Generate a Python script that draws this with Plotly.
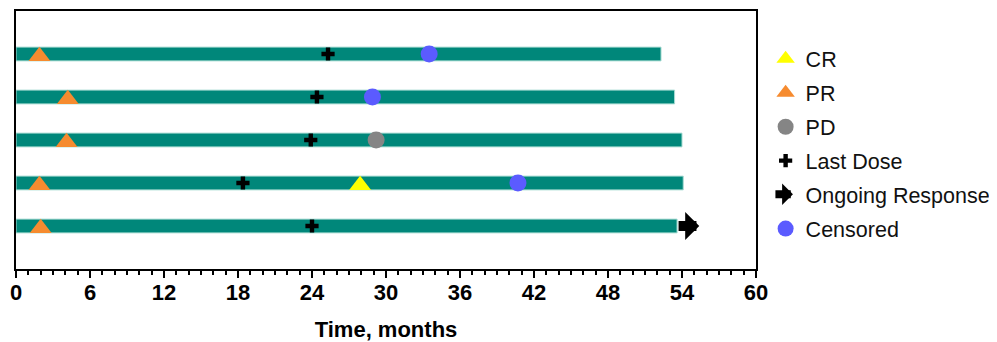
import plotly.graph_objects as go

# ---- data ----
patients = [5, 4, 3, 2, 1]                      # row positions, top to bottom
durations = [52.3, 53.4, 54.0, 54.1, 53.6]      # months
pr_times = [1.9, 4.2, 4.1, 1.9, 2.0]
last_dose = [25.3, 24.4, 23.9, 18.4, 24.0]
cr_rows, cr_times = [2], [27.9]
pd_rows, pd_times = [3], [29.2]
cens_rows, cens_times = [5, 4, 2], [33.5, 28.9, 40.7]
ongoing_rows, ongoing_tip = [1], [55.4]
ongoing_start = [53.6]
xticks = [0, 6, 12, 18, 24, 30, 36, 42, 48, 54, 60]

FONT = "Arial, Liberation Sans, sans-serif"
TEAL = "#00877A"
TRI_DY = 0.05   # visual centring of triangle glyphs on the bar (style)

fig = go.Figure()
fig.add_trace(go.Bar(
    x=durations, y=patients, orientation="h", width=0.32,
    marker=dict(color=TEAL, line=dict(color="#A8DCD3", width=1)),
    showlegend=False, hoverinfo="skip"))

def mk(name, x, y, symbol, color, size, dy=0.0):
    return go.Scatter(x=x, y=[v - dy if v is not None else None for v in y],
                      mode="markers", name=name, legendgroup=name,
                      marker=dict(symbol=symbol, color=color, size=size,
                                  line=dict(width=0)))

fig.add_trace(mk("CR", cr_times, cr_rows, "triangle-up", "#FFFF00", 19, TRI_DY))
fig.add_trace(mk("PR", pr_times, patients, "triangle-up", "#F68B2F", 19, TRI_DY))
fig.add_trace(mk("PD", pd_times, pd_rows, "circle", "#858585", 17))
fig.add_trace(mk("Last Dose", last_dose, patients, "cross", "#000000", 11))
fig.add_trace(mk("Ongoing Response", [None], [None], "square", "rgba(0,0,0,0)", 16))
fig.add_trace(mk("Censored", cens_times, cens_rows, "circle", "#5B5BFF", 17))

# ongoing-response arrows on the bars
for xs, xe, yr in zip(ongoing_start, ongoing_tip, ongoing_rows):
    fig.add_annotation(x=xe, y=yr, ax=xs, ay=yr, xref="x", yref="y",
                       axref="x", ayref="y", text="", showarrow=True,
                       arrowhead=1, arrowsize=0.47, arrowwidth=10,
                       arrowcolor="#000000")

# block-arrow glyph for the "Ongoing Response" legend entry
fig.add_annotation(x=1.0499, y=0.290, xref="paper", yref="paper",
                   ax=-19, ay=0, axref="pixel", ayref="pixel", text="",
                   showarrow=True, arrowhead=1, arrowsize=0.45, arrowwidth=8,
                   arrowcolor="#000000")

fig.update_layout(
    width=989, height=334,
    margin=dict(l=8, r=239, t=1, b=72),
    plot_bgcolor="white", paper_bgcolor="white",
    barmode="overlay",
    font=dict(family=FONT, color="#000000"),
    legend=dict(x=1.013, y=0.894, xanchor="left", yanchor="top",
                font=dict(family=FONT, size=21.5, color="#111111"),
                traceorder="grouped", tracegroupgap=3,
                bgcolor="rgba(0,0,0,0)"),
    xaxis=dict(range=[0, 60], tickvals=xticks, ticks="outside", ticklen=7,
               tickwidth=2, tickcolor="black", showline=True, linewidth=2,
               linecolor="black", mirror=True, showgrid=False, zeroline=False,
               tickfont=dict(family=FONT, size=22, weight="bold"),
               ticklabelstandoff=-4,
               minor=dict(dtick=1, ticks="outside", ticklen=4, tickwidth=1.5,
                          tickcolor="black", showgrid=False),
               title=dict(text="<b>Time, months</b>",
                          font=dict(family=FONT, size=22), standoff=20)),
    yaxis=dict(range=[0, 6], showticklabels=False, ticks="", showline=True,
               linewidth=2, linecolor="black", mirror=True, showgrid=False,
               zeroline=False),
)

fig.write_html("out.html")
